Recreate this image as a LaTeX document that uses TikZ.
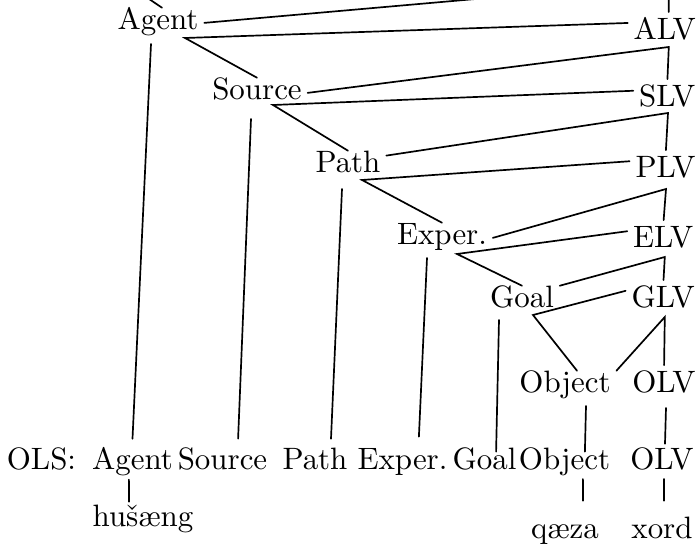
\documentclass[tikz,border=0pt]{standalone}
\usepackage{tikz}
\usetikzlibrary{positioning,calc}
\tikzset{
  link/.style={-, line width=1.2pt, draw=black, line cap=round, line join=miter},
  spine/.style={link, shorten >=4pt}
}

\begin{document}
\begin{tikzpicture}[
  role/.style={anchor=base, scale=2.2, inner xsep=1.7pt, inner ysep=0.4pt, text height=6.6pt, text depth=2pt}
]
\useasboundingbox (0,0) rectangle (17.45,13.625);
\clip (0,0) rectangle (17.45,13.625);

% roles stepping down, LV column on the right
\node[role] at (3.95,12.875) (agent) {Agent};
\node[role] at (6.425,11.125) (source) {Source};
\node[role] at (8.70,9.30) (path) {Path};
\node[role] at (11.05,7.50) (exper) {Exper.};
\node[role] at (13.05,5.925) (goal) {Goal};
\node[role] at (14.125,3.80) (object) {Object};

\node[role] at (16.62,12.625) (alv) {ALV};
\node[role] at (16.68,10.95) (slv) {SLV};
\node[role] at (16.64,9.175) (plv) {PLV};
\node[role] at (16.58,7.425) (elv) {ELV};
\node[role] at (16.58,5.925) (glv) {GLV};
\node[role] at (16.6,3.80) (olv) {OLV};

% OLS row and the words
\node[role] at (1.0375,1.875) (ols) {OLS:};
\node[role] at (3.3125,1.875) (bagent) {Agent};
\node[role] at (5.5625,1.875) (bsource) {Source};
\node[role] at (7.875,1.875) (bpath) {Path};
\node[role] at (10.0625,1.875) (bexper) {Exper.};
\node[role] at (12.1125,1.875) (bgoal) {Goal};
\node[role] at (14.1125,1.875) (bobject) {Object};
\node[role] at (16.55,1.875) (bolv) {OLV};
\node[role] at (3.575,0.45) (husaeng) {hušæng};
\node[role] at (14.125,0.15) (qaeza) {qæza};
\node[role] at (16.55,0.15) (xord) {xord};

% forks under the roles, feet under the LVs
\coordinate (topfork) at (2.875,14.225);
\coordinate (topfoot) at (16.72,14.075);
\coordinate (agentfork) at (4.625,12.675);
\coordinate (alvfoot) at (16.72,12.45);
\coordinate (sourcefork) at (6.825,11.0);
\coordinate (slvfoot) at (16.7,10.8);
\coordinate (pathfork) at (9.05,9.125);
\coordinate (plvfoot) at (16.65,8.9);
\coordinate (experfork) at (11.425,7.275);
\coordinate (elvfoot) at (16.62,7.2);
\coordinate (goalfork) at (13.325,5.75);
\coordinate (glvfoot) at (16.62,5.7);

% top, cut by the frame
\draw[link] (topfork) -- ([xshift=0.1cm]agent.north);
\draw[spine] (agent.east) -- (topfoot) -- ([xshift=0.1cm]alv.north);

% each role: fork to its LV and to the next role, rise to the LV above
\draw[link] (alv.165) -- (agentfork) -- (source.north);
\draw[spine] (source.east) -- (alvfoot) -- (slv.north);
\draw[link] (slv.165) -- (sourcefork) -- (path.north);
\draw[spine] (path.15) -- (slvfoot) -- (plv.north);
\draw[link] (plv.165) -- (pathfork) -- (exper.north);
\draw[spine] (exper.east) -- (plvfoot) -- (elv.north);
\draw[link] (elv.165) -- (experfork) -- (goal.north);
\draw[spine] (goal.north east) -- (elvfoot) -- (glv.north);
\draw[link] (glv.165) -- (goalfork) -- ([xshift=0.3cm]object.north);
\draw[spine] (object.north east) -- (glvfoot) -- (olv.north);

% drops to the OLS row
\draw[link] ([xshift=-0.175cm,yshift=-0.15cm]agent.south) -- ([yshift=0.225cm]bagent.north);
\draw[link] ([xshift=-0.15cm,yshift=-0.275cm]source.south) -- ([xshift=0.39cm,yshift=0.225cm]bsource.north);
\draw[link] ([xshift=-0.15cm,yshift=-0.2cm]path.south) -- ([xshift=0.4cm,yshift=0.225cm]bpath.north);
\draw[link] ([xshift=-0.375cm,yshift=-0.125cm]exper.south) -- ([xshift=0.41cm,yshift=0.275cm]bexper.north);
\draw[link] ([xshift=-0.575cm,yshift=-0.1cm]goal.south) -- ([xshift=0.29cm,yshift=-0.1cm]bgoal.north);
\draw[link] ([xshift=0.525cm,yshift=-0.125cm]object.south) -- ([xshift=0.51cm,yshift=-0.1cm]bobject.north);
\draw[link] ([xshift=0.05cm,yshift=-0.175cm]olv.south) -- ([xshift=0.075cm,yshift=0.1cm]bolv.north);

% words under the row
\draw[link] ([xshift=-0.09cm,yshift=-0.04cm]bagent.south) -- ([xshift=-0.35cm,yshift=0.075cm]husaeng.north);
\draw[link] ([xshift=0.46cm,yshift=-0.025cm]bobject.south) -- ([xshift=0.45cm,yshift=0.4cm]qaeza.north);
\draw[link] ([xshift=0.05cm,yshift=-0.025cm]bolv.south) -- ([xshift=0.05cm,yshift=0.4cm]xord.north);
\end{tikzpicture}
\end{document}
